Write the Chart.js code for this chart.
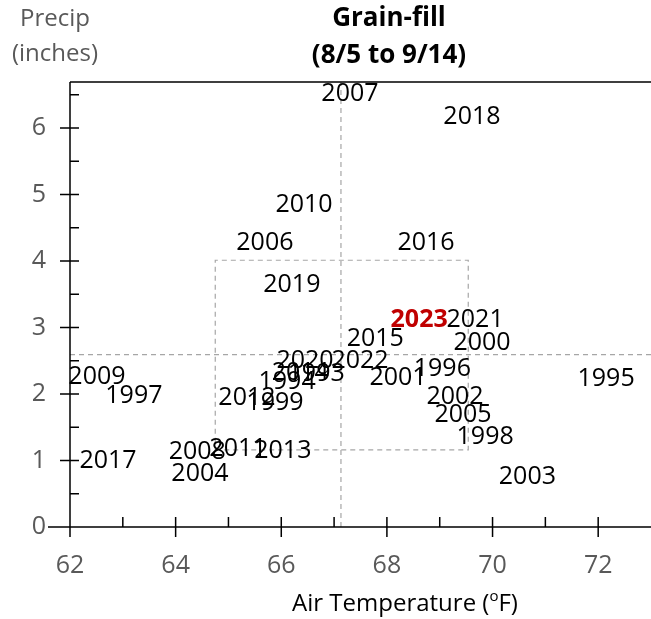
<!DOCTYPE html>
<html>
<head>
<meta charset="utf-8">
<script src="https://cdn.jsdelivr.net/npm/chart.js@4.4.0/dist/chart.umd.min.js"></script>
<style>
  html, body { margin: 0; padding: 0; background: #fff; }
  #grainFill { display: block; }
</style>
</head>
<body>
<canvas id="grainFill" width="651" height="619"></canvas>
<script>
// years and their grain-fill temperature / precip
const years = [1993, 1994, 1995, 1996, 1997, 1998, 1999, 2000, 2001, 2002,
  2003, 2004, 2005, 2006, 2007, 2008, 2009, 2010, 2011, 2012,
  2013, 2014, 2015, 2016, 2017, 2018, 2019, 2020, 2021, 2022, 2023];
const temps = [66.66, 66.11, 72.15, 69.05, 63.21, 69.86, 65.88, 69.80, 68.21, 69.29,
  70.66, 64.46, 69.44, 65.69, 67.30, 64.41, 62.51, 66.43, 65.18, 65.35,
  66.03, 66.36, 67.78, 68.74, 62.72, 69.61, 66.20, 66.45, 69.67, 67.49, 68.61];
const precip = [2.30, 2.18, 2.23, 2.38, 1.97, 1.35, 1.86, 2.77, 2.24, 1.95,
  0.75, 0.80, 1.68, 4.27, 6.51, 1.13, 2.26, 4.84, 1.17, 1.94,
  1.14, 2.32, 2.83, 4.27, 0.99, 6.17, 3.64, 2.50, 3.11, 2.50, 3.11];

const highlightYear = 2023;

// average lines and the +/- 1 sd box
const meanTemp = 67.13;
const meanPrecip = 2.59;
const boxTemp = [64.75, 69.54];
const boxPrecip = [1.16, 4.01];

// axes
const xMin = 62, xMax = 73;
const yMin = 0, yMax = 6.69;
const xMajor = [62, 64, 66, 68, 70, 72];
const xMinor = [63, 65, 67, 69, 71];
const yMajor = [0, 1, 2, 3, 4, 5, 6];
const yMinor = [0.5, 1.5, 2.5, 3.5, 4.5, 5.5, 6.5];

const FONT = '"Open Sans", "Liberation Sans", sans-serif';
const dashGrey = '#A6A6A6';

const points = temps.map((t, i) => ({ x: t, y: precip[i] }));

const dashed = {
  showLine: true,
  borderColor: dashGrey,
  borderWidth: 1.2,
  borderDash: [5, 4],
  pointRadius: 0,
  fill: false,
};

// year labels sit centred on each point
const yearLabels = {
  id: 'yearLabels',
  afterDatasetsDraw(chart) {
    const ctx = chart.ctx;
    const meta = chart.getDatasetMeta(0);
    ctx.save();
    ctx.textAlign = 'center';
    ctx.textBaseline = 'middle';
    meta.data.forEach((pt, i) => {
      if (years[i] === highlightYear) {
        ctx.font = 'bold 25px ' + FONT;
        ctx.fillStyle = '#C00000';
      } else {
        ctx.font = '25px ' + FONT;
        ctx.fillStyle = '#000';
      }
      ctx.fillText(String(years[i]), pt.x, pt.y);
    });
    ctx.restore();
  }
};

// axis ticks (major cross the axis, minor inside), top border, titles
const frame = {
  id: 'frame',
  afterDraw(chart) {
    const ctx = chart.ctx;
    const { left, right, top, bottom } = chart.chartArea;
    const xs = chart.scales.x, ys = chart.scales.y;
    ctx.save();
    ctx.strokeStyle = '#000';
    ctx.lineWidth = 1.5;
    ctx.beginPath();
    ctx.moveTo(left, top); ctx.lineTo(right, top);
    ctx.moveTo(left, top); ctx.lineTo(left, bottom);
    ctx.moveTo(left - 22, bottom); ctx.lineTo(right, bottom);
    yMajor.forEach(v => {
      const y = ys.getPixelForValue(v);
      ctx.moveTo(left - 10, y); ctx.lineTo(left + 9, y);
    });
    yMinor.forEach(v => {
      const y = ys.getPixelForValue(v);
      ctx.moveTo(left, y); ctx.lineTo(left + 9, y);
    });
    xMajor.forEach(v => {
      const x = xs.getPixelForValue(v);
      ctx.moveTo(x, bottom - 10); ctx.lineTo(x, bottom + 10);
    });
    xMinor.forEach(v => {
      const x = xs.getPixelForValue(v);
      ctx.moveTo(x, bottom - 10); ctx.lineTo(x, bottom);
    });
    ctx.stroke();

    // titles
    ctx.textAlign = 'center';
    ctx.textBaseline = 'middle';
    ctx.fillStyle = '#000';
    ctx.font = 'bold 26px ' + FONT;
    ctx.fillText('Grain-fill', 389, 19);
    ctx.fillText('(8/5 to 9/14)', 389, 56);

    ctx.fillStyle = '#595959';
    ctx.font = '24px ' + FONT;
    ctx.fillText('Precip', 55, 19);
    ctx.fillText('(inches)', 55, 54);

    // x axis title with superscript degree "o"
    ctx.fillStyle = '#000';
    ctx.textAlign = 'left';
    const a = 'Air Temperature (', b = 'o', c = 'F)';
    ctx.font = '24px ' + FONT;
    const wa = ctx.measureText(a).width, wc = ctx.measureText(c).width;
    ctx.font = '15px ' + FONT;
    const wb = ctx.measureText(b).width;
    let x0 = 405 - (wa + wb + wc) / 2;
    ctx.font = '24px ' + FONT;
    ctx.fillText(a, x0, 604);
    ctx.font = '15px ' + FONT;
    ctx.fillText(b, x0 + wa, 597);
    ctx.font = '24px ' + FONT;
    ctx.fillText(c, x0 + wa + wb, 604);
    ctx.restore();
  }
};

new Chart(document.getElementById('grainFill'), {
  type: 'scatter',
  data: {
    datasets: [
      { label: 'years', data: points, pointRadius: 0, pointHoverRadius: 0 },
      Object.assign({ label: 'sd box', data: [
        { x: boxTemp[0], y: boxPrecip[0] }, { x: boxTemp[1], y: boxPrecip[0] },
        { x: boxTemp[1], y: boxPrecip[1] }, { x: boxTemp[0], y: boxPrecip[1] },
        { x: boxTemp[0], y: boxPrecip[0] }] }, dashed),
      Object.assign({ label: 'mean temp', data: [
        { x: meanTemp, y: yMin }, { x: meanTemp, y: yMax }] }, dashed),
      Object.assign({ label: 'mean precip', data: [
        { x: xMin, y: meanPrecip }, { x: xMax, y: meanPrecip }] }, dashed),
    ]
  },
  options: {
    responsive: false,
    animation: false,
    devicePixelRatio: 1,
    layout: { padding: { top: 82, right: 0, left: 0, bottom: 0 } },
    plugins: {
      legend: { display: false },
      tooltip: { enabled: false },
      title: { display: false },
    },
    scales: {
      x: {
        type: 'linear',
        min: xMin, max: xMax,
        afterBuildTicks: s => { s.ticks = xMajor.map(v => ({ value: v })); },
        afterFit: s => { s.height = 92; },
        grid: { display: false },
        border: { display: false },
        ticks: { color: '#595959', font: { family: FONT, size: 25 }, padding: 16, maxRotation: 0 },
      },
      y: {
        type: 'linear',
        min: yMin, max: yMax,
        afterBuildTicks: s => { s.ticks = yMajor.map(v => ({ value: v })); },
        afterFit: s => { s.width = 70; },
        grid: { display: false },
        border: { display: false },
        ticks: { color: '#595959', font: { family: FONT, size: 25 }, padding: 16 },
      }
    }
  },
  plugins: [yearLabels, frame]
});
</script>
</body>
</html>
